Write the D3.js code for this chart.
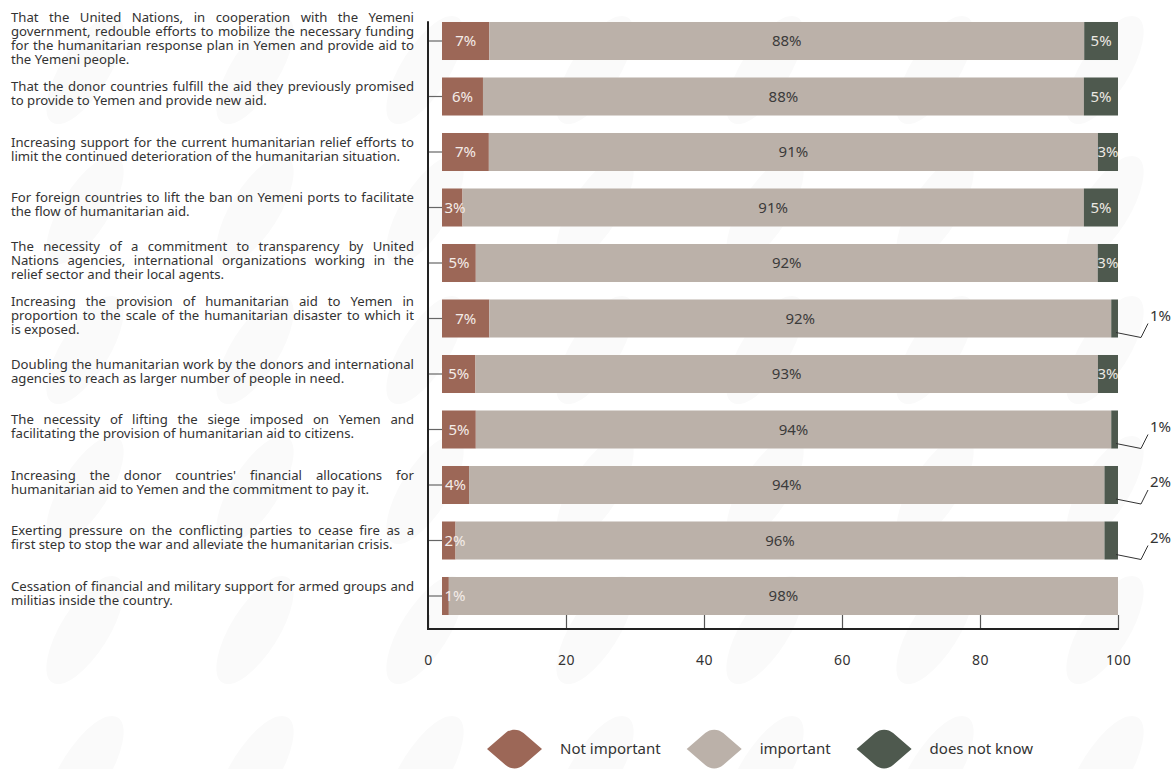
<!DOCTYPE html>
<html>
<head>
<meta charset="utf-8">
<script src="https://cdn.jsdelivr.net/npm/d3@7"></script>
<style>
  body { margin: 0; background: #fff; }
  svg { display: block; font-family: "Noto Sans", Lato, sans-serif; }
</style>
</head>
<body>
<div id="chart"></div>
<script>
// statements (line breaks as in the original)
const statements = [
  "That the United Nations, in cooperation with the Yemeni\ngovernment, redouble efforts to mobilize the necessary funding\nfor the humanitarian response plan in Yemen and provide aid to\nthe Yemeni people.",
  "That the donor countries fulfill the aid they previously promised\nto provide to Yemen and provide new aid.",
  "Increasing support for the current humanitarian relief efforts to\nlimit the continued deterioration of the humanitarian situation.",
  "For foreign countries to lift the ban on Yemeni ports to facilitate\nthe flow of humanitarian aid.",
  "The necessity of a commitment to transparency by United\nNations agencies, international organizations working in the\nrelief sector and their local agents.",
  "Increasing the provision of humanitarian aid to Yemen in\nproportion to the scale of the humanitarian disaster to which it\nis exposed.",
  "Doubling the humanitarian work by the donors and international\nagencies to reach as larger number of people in need.",
  "The necessity of lifting the siege imposed on Yemen and\nfacilitating the provision of humanitarian aid to citizens.",
  "Increasing the donor countries' financial allocations for\nhumanitarian aid to Yemen and the commitment to pay it.",
  "Exerting pressure on the conflicting parties to cease fire as a\nfirst step to stop the war and alleviate the humanitarian crisis.",
  "Cessation of financial and military support for armed groups and\nmilitias inside the country."
];
const notImportant = [7, 6, 7, 3, 5, 7, 5, 5, 4, 2, 1];
const important    = [88, 88, 91, 91, 92, 92, 93, 94, 94, 96, 98];
const doesNotKnow  = [5, 5, 3, 5, 3, 1, 3, 1, 2, 2, 0];
const seriesNames  = ["Not important", "important", "does not know"];
const seriesColors = ["#9c6757", "#bbb1a9", "#4e594e"];
const xTicks = [0, 20, 40, 60, 80, 100];

const W = 1175, H = 769;
const keys = ["ni", "im", "dk"];
const rows = statements.map((s, i) => ({
  i: i, text: s, ni: notImportant[i], im: important[i], dk: doesNotKnow[i]
}));

const svg = d3.select("#chart").append("svg")
  .attr("width", W).attr("height", H);

// faint leaf background
const defs = svg.append("defs");
const pat = defs.append("pattern")
  .attr("id", "leaves")
  .attr("patternUnits", "userSpaceOnUse")
  .attr("width", 170).attr("height", 140);
pat.append("ellipse")
  .attr("cx", 0).attr("cy", 0).attr("rx", 62).attr("ry", 24)
  .attr("transform", "translate(85,70) rotate(-58)")
  .attr("fill", "#fafafa");
svg.append("rect").attr("width", W).attr("height", H).attr("fill", "url(#leaves)");

// scales
const x = d3.scaleLinear().domain([0, 100]).range([428, 1118]);
const xBar = d3.scaleLinear().domain([0, 1]).range([442, 1118]);
const y = d3.scaleBand()
  .domain(rows.map(d => d.i))
  .range([13.25, 623.75])
  .paddingInner(0.315)
  .paddingOuter(0.1575);
const color = d3.scaleOrdinal().domain(keys).range(seriesColors);
const axisBottomY = 629;

const stacked = d3.stack().keys(keys).offset(d3.stackOffsetExpand)(rows);

// bars
const layers = svg.append("g").selectAll("g")
  .data(stacked)
  .join("g")
  .attr("fill", d => color(d.key));

layers.selectAll("rect")
  .data(d => d.map(v => ({ key: d.key, v: v })))
  .join("rect")
  .attr("x", d => xBar(d.v[0]))
  .attr("y", d => y(d.v.data.i))
  .attr("width", d => xBar(d.v[1]) - xBar(d.v[0]))
  .attr("height", y.bandwidth());

// x axis (inner ticks)
const xAxis = svg.append("g")
  .attr("transform", `translate(0,${axisBottomY})`)
  .call(d3.axisBottom(x).tickValues(xTicks).tickSizeInner(-14).tickSizeOuter(0).tickPadding(26));
xAxis.select(".domain").remove();
xAxis.selectAll(".tick line").attr("stroke", "#555").attr("stroke-width", 1.2);
xAxis.selectAll(".tick text")
  .attr("fill", "#333").attr("font-size", 14).attr("letter-spacing", "0.4px")
  .attr("font-family", "'Noto Sans', Lato, sans-serif");

// y axis ticks (pointing right to the bars)
const yAxis = svg.append("g")
  .attr("transform", `translate(${x(0)},0)`)
  .call(d3.axisLeft(y).tickSize(-(xBar(0) - x(0))).tickFormat(""));
yAxis.select(".domain").remove();
yAxis.selectAll(".tick line").attr("stroke", "#666").attr("stroke-width", 1.2);

// frame lines: left and bottom
svg.append("path")
  .attr("d", `M${x(0)},${y.range()[0] + 8}V${axisBottomY}H${x(100) + 1}`)
  .attr("fill", "none")
  .attr("stroke", "#222")
  .attr("stroke-width", 2);

// value labels
const lab = svg.append("g").attr("font-size", 15).attr("text-anchor", "middle");
stacked.forEach(layer => {
  layer.forEach(v => {
    const val = v.data[layer.key];
    if (!val) return;
    const x0 = xBar(v[0]), x1 = xBar(v[1]);
    const yc = y(v.data.i) + y.bandwidth() / 2;
    if (layer.key === "ni") {
      lab.append("text")
        .attr("x", Math.max((x0 + x1) / 2, xBar(0) + 13))
        .attr("y", yc).attr("dy", "0.35em")
        .attr("fill", "#f4ece8").text(val + "%");
    } else if (layer.key === "im") {
      lab.append("text")
        .attr("x", (x0 + x1) / 2)
        .attr("y", yc).attr("dy", "0.35em")
        .attr("fill", "#3b3b3b").text(val + "%");
    } else if (val >= 3) {
      lab.append("text")
        .attr("x", (x0 + x1) / 2)
        .attr("y", yc).attr("dy", "0.35em")
        .attr("fill", "#ece8e2").text(val + "%");
    } else {
      // leader line for small values
      svg.append("path")
        .attr("d", `M${x1 - 2},${yc + 14}L${x1 + 23},${yc + 19}L${x1 + 30},${yc + 5}`)
        .attr("fill", "none").attr("stroke", "#333").attr("stroke-width", 1);
      lab.append("text")
        .attr("x", x1 + 32).attr("text-anchor", "start")
        .attr("y", yc - 3).attr("dy", "0.35em")
        .attr("fill", "#333").text(val + "%");
    }
  });
});

// statement labels, justified
const textLeft = 11, textRight = 414, lineH = 14;
const labels = svg.append("g").attr("fill", "#333");
const probe = svg.append("text").attr("font-size", 14);
function measure(str, fs) {
  probe.attr("font-size", fs).text(str);
  return probe.node().getComputedTextLength();
}
let maxW = 0;
rows.forEach(r => r.text.split("\n").forEach(l => { maxW = Math.max(maxW, measure(l, 14)); }));
const fs = Math.min(14, 14 * (textRight - textLeft - 2) / maxW);

rows.forEach(r => {
  const lines = r.text.split("\n");
  const yc = y(r.i) + y.bandwidth() / 2 - 3;
  lines.forEach((line, li) => {
    const ly = yc + (li - (lines.length - 1) / 2) * lineH;
    const t = labels.append("text")
      .attr("font-size", fs)
      .attr("y", ly).attr("dy", "0.35em");
    const words = line.split(" ");
    if (li === lines.length - 1 || words.length < 2) {
      t.attr("x", textLeft).text(line);
      return;
    }
    const ws = words.map(w => measure(w, fs));
    const gap = (textRight - textLeft - d3.sum(ws)) / (words.length - 1);
    let cx = textLeft;
    words.forEach((w, wi) => {
      t.append("tspan").attr("x", cx).text(w);
      cx += ws[wi] + gap;
    });
  });
});
probe.remove();

// legend
const legend = svg.append("g").attr("transform", `translate(${x(0) + 59},749)`);
const leaf = "M-27.5,0L-9,-16C-4,-20.5 4,-20.5 9,-16L27.5,0L9,16C4,20.5 -4,20.5 -9,16Z";
let lx = 0;
keys.forEach((k, i) => {
  const g = legend.append("g").attr("transform", `translate(${lx},0)`);
  g.append("path").attr("d", leaf).attr("transform", "translate(27.5,0)").attr("fill", color(k));
  const tx = g.append("text")
    .attr("x", 73).attr("dy", "0.35em")
    .attr("font-size", 15).attr("fill", "#333")
    .text(seriesNames[i]);
  lx += 73 + tx.node().getComputedTextLength() + 26;
});
</script>
</body>
</html>
